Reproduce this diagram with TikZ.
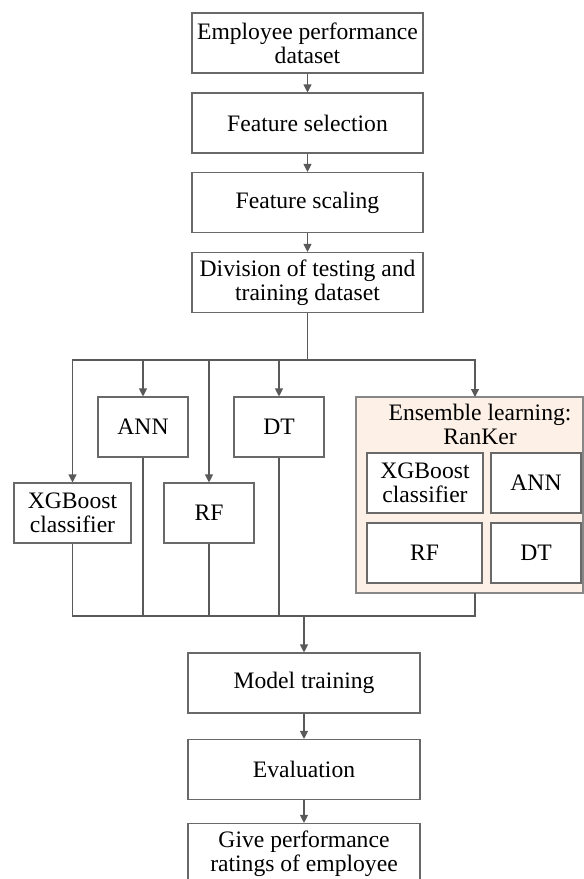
\documentclass[tikz,border=0pt]{standalone}
\usepackage{fontspec}
\setmainfont{Liberation Serif}
\usetikzlibrary{arrows.meta}
\definecolor{linegray}{RGB}{89,89,89}
\definecolor{boxgray}{RGB}{105,105,105}
\definecolor{peach}{RGB}{253,240,230}
\begin{document}
\begin{tikzpicture}[x=1pt,y=-1pt,
  box/.style={draw=boxgray,line width=1.1pt,fill=white,rectangle,inner sep=0pt,
    minimum width=#1,minimum height=60pt,align=center,
    font=\fontsize{23.6}{24}\selectfont},
  box/.default=231pt,
  link/.style={draw=linegray,line width=1.1pt},
  flow/.style={link,-{Triangle[length=8pt,width=8pt]}},
]
\useasboundingbox (0,0) rectangle (584,879);

% main pipeline
\node[box] (data)  at (307.5,43)  {Employee performance\\dataset};
\node[box] (fsel)  at (307.5,123) {Feature selection};
\node[box] (fscl)  at (307.5,202.5) {Feature scaling};
\node[box] (split) at (307.5,282.5) {Division of testing and\\training dataset};

% individual models
\node[box=90pt]  (ann) at (143,427)   {ANN};
\node[box=90pt]  (dt)  at (279,427)   {DT};
\node[box=117pt] (xgb) at (72.5,513)  {XGBoost\\classifier};
\node[box=90pt]  (rf)  at (209,513)   {RF};

% ensemble container
\node[draw=boxgray!80,line width=1.1pt,fill=peach,rectangle,inner sep=0pt,
      minimum width=227pt,minimum height=196pt] (ens) at (469.5,495) {};
\node[align=center,inner sep=0pt,font=\fontsize{23.6}{24}\selectfont] (enstitle)
      at (480,424) {Ensemble learning:\\RanKer};
\node[box=116pt] (exgb) at (425,483)   {XGBoost\\classifier};
\node[box=90pt]  (eann) at (536,483)   {ANN};
\node[box=115pt] (erf)  at (424.5,553) {RF};
\node[box=90pt]  (edt)  at (536,553)   {DT};

% lower pipeline
\node[box=232pt] (train) at (304,683)   {Model training};
\node[box=232pt] (eval)  at (304,769.5) {Evaluation};
\node[box=232pt] (rate)  at (304,853.5) {Give performance\\ratings of employee};

% bus points
\coordinate (fork)  at (307.5,360);
\coordinate (merge) at (304,616);
\coordinate (ensin)  at (475,397);
\coordinate (ensout) at (475,593);

\draw[flow] (data) -- (fsel);
\draw[flow] (fsel) -- (fscl);
\draw[flow] (fscl) -- (split);
\draw[link,line width=1.8pt] (split) -- (fork);

\draw[flow] (fork) -| (xgb);
\draw[flow] (fork) -| (ann);
\draw[flow] (fork) -| (rf);
\draw[flow] (fork) -| (dt);
\draw[flow] (fork) -| (ensin);

\draw[link] (xgb) |- (merge);
\draw[link] (ann) |- (merge);
\draw[link] (rf)  |- (merge);
\draw[link] (dt)  |- (merge);
\draw[link] (ensout) |- (merge);

\draw[flow] (merge) -- (train);
\draw[flow] (train) -- (eval);
\draw[flow] (eval) -- (rate);
\end{tikzpicture}
\end{document}
